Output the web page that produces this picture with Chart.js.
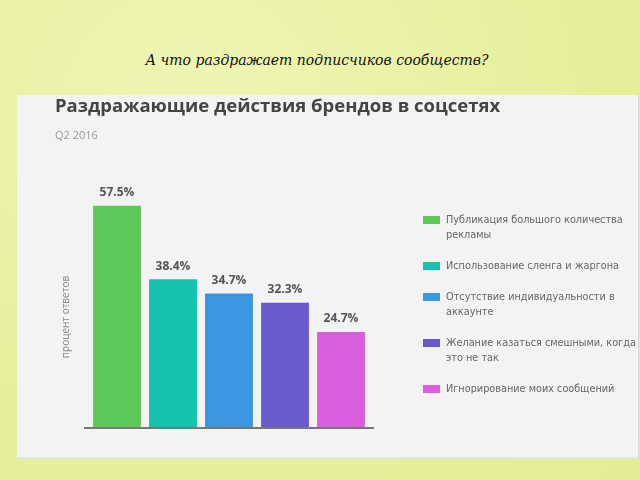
<!DOCTYPE html>
<html>
<head>
<meta charset="utf-8">
<script src="https://cdn.jsdelivr.net/npm/chart.js@4"></script>
<style>
  html, body { margin: 0; padding: 0; }
  body {
    width: 640px; height: 480px; overflow: hidden; position: relative;
    background: radial-gradient(ellipse at 30% 20%, #eef5b4 0%, #e6f09c 60%, #e3ee94 100%);
  }
  #head {
    position: absolute; left: 0; top: 52px; width: 634px; text-align: center;
    font-family: "DejaVu Serif", serif; font-style: italic; font-size: 14px; color: #111;
  }
  #panel {
    position: absolute; left: 17px; top: 95px; width: 621px; height: 362px;
    background: #f3f3f3; border-bottom: 2px solid #dfe6ee; border-right: 1px solid #d8d8d8;
  }
  #title {
    position: absolute; left: 38px; top: 0px; line-height: 20px; white-space: nowrap;
    font-family: "Open Sans", sans-serif; font-weight: bold; font-size: 18.5px; color: #444;
  }
  #sub {
    position: absolute; left: 38px; top: 33px; line-height: 14px;
    font-family: "Open Sans", sans-serif; font-size: 11px; color: #999;
  }
  #chartBox { position: absolute; left: 0; top: 0; width: 621px; height: 362px; }
  #legend { position: absolute; left: 406px; top: 117px; width: 215px; }
  .item { display: flex; align-items: flex-start; margin-bottom: 16px; }
  .sw { width: 17px; height: 8px; margin-top: 4px; margin-right: 6px; flex: none; }
  .txt { font-family: "DejaVu Sans Condensed", "DejaVu Sans", sans-serif; font-stretch: condensed; font-size: 10.8px; line-height: 15px; color: #666; white-space: nowrap; }
</style>
</head>
<body>
<div id="head">А что раздражает подписчиков сообществ?</div>
<div id="panel">
  <div id="chartBox"><canvas id="bars" width="621" height="362"></canvas></div>
  <div id="title">Раздражающие действия брендов в соцсетях</div>
  <div id="sub">Q2 2016</div>
  <div id="legend"></div>
</div>
<script>
// данные
var categories = [
  ["Публикация большого количества", "рекламы"],
  ["Использование сленга и жаргона"],
  ["Отсутствие индивидуальности в", "аккаунте"],
  ["Желание казаться смешными, когда", "это не так"],
  ["Игнорирование моих сообщений"]
];
var values = [57.5, 38.4, 34.7, 32.3, 24.7];
var colors = ['#5cc85a', '#14c2ae', '#3a96e0', '#6a5acf', '#d95edc'];
var yTitle = 'процент ответов';

// легенда
var legendEl = document.getElementById('legend');
categories.forEach(function(lines, i) {
  var item = document.createElement('div');
  item.className = 'item';
  item.innerHTML = '<div class="sw" style="background:' + colors[i] + '"></div><div class="txt">' + lines.join('<br>') + '</div>';
  legendEl.appendChild(item);
});

// базовая линия (чуть шире области графика), подпись оси и значения
var valueLabels = {
  id: 'valueLabels',
  afterDatasetsDraw: function(chart) {
    var ctx = chart.ctx;
    var area = chart.chartArea;
    var meta = chart.getDatasetMeta(0);
    ctx.save();
    ctx.strokeStyle = '#777';
    ctx.lineWidth = 2;
    ctx.beginPath();
    ctx.moveTo(area.left - 5, area.bottom + 1);
    ctx.lineTo(area.right + 5, area.bottom + 1);
    ctx.stroke();

    // подпись оси Y — в оригинале смещена вниз от центра
    ctx.save();
    ctx.translate(area.left - 23, area.bottom - 110);
    ctx.rotate(-Math.PI / 2);
    ctx.font = '10px "Open Sans", sans-serif';
    ctx.fillStyle = '#888';
    ctx.textAlign = 'center';
    ctx.textBaseline = 'middle';
    ctx.fillText(yTitle, 0, 0);
    ctx.restore();

    ctx.font = 'bold 12px "Open Sans", sans-serif';
    ctx.fillStyle = '#555';
    ctx.textAlign = 'center';
    ctx.textBaseline = 'bottom';
    meta.data.forEach(function(bar, i) {
      ctx.fillText(values[i].toFixed(1) + '%', bar.x, bar.y - 7);
    });
    ctx.restore();
  }
};

var myChart = new Chart(document.getElementById('bars').getContext('2d'), {
  type: 'bar',
  data: {
    labels: categories,
    datasets: [{
      data: values,
      backgroundColor: colors,
      borderWidth: 0,
      categoryPercentage: 1,
      barPercentage: 0.855
    }]
  },
  plugins: [valueLabels],
  options: {
    animation: false,
    responsive: false,
    layout: { padding: { left: 38, right: 269, top: 82, bottom: 22 } },
    scales: {
      x: {
        grid: { display: false },
        border: { display: false },
        ticks: { display: false }
      },
      y: {
        min: 0,
        max: 65,
        grid: { display: false },
        border: { display: false },
        ticks: { display: false },
        afterFit: function(axis) { axis.width = 34; }
      }
    },
    plugins: {
      legend: { display: false },
      tooltip: { enabled: false }
    }
  }
});
</script>
</body>
</html>
